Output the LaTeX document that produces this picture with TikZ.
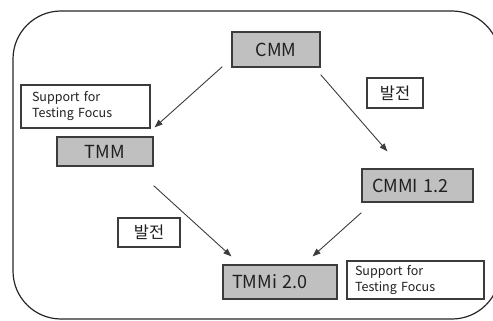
\documentclass[tikz,border=0pt]{standalone}
\usepackage{fontspec}
\setmainfont{Noto Sans CJK KR}
\usetikzlibrary{arrows.meta}
\definecolor{boxgray}{HTML}{C0C0C0}
\definecolor{edge}{HTML}{3C3C3C}
\definecolor{txt}{HTML}{202020}
\tikzset{
  graybox/.style={draw=edge, line width=1.3pt, fill=boxgray, text=txt, font=\fontsize{18}{20}\selectfont, inner ysep=0pt},
  notebox/.style={draw=edge, line width=1.1pt, fill=white, text=txt, font=\fontsize{12.5}{16}\selectfont, align=left, inner ysep=0pt},
  devbox/.style={draw=edge, line width=1.1pt, fill=white, text=txt, font=\fontsize{16.5}{18}\selectfont, inner sep=0pt},
  arr/.style={draw=edge, line width=0.9pt, -{Triangle[length=8pt,width=6pt]}},
  frame/.style={draw=black!85, line width=1.2pt, rounded corners=48pt}
}
\begin{document}
\begin{tikzpicture}[x=1pt,y=-1pt]
\useasboundingbox (0,0) rectangle (493,321);
\clip (0,0) rectangle (493,321);
\path[frame] (13,11) rectangle (500,319);
% gray boxes
\node[graybox, minimum width=88pt, minimum height=35pt] (cmm) at (276,49.5) {CMM};
\node[graybox, minimum width=96pt, minimum height=29pt] (tmm) at (105,151.5) {TMM};
\node[graybox, minimum height=33pt, inner xsep=10pt, text width=91pt, align=left] (cmmi) at (417.5,185.5) {CMMI 1.2};
\node[graybox, minimum height=34pt, inner xsep=9pt, text width=96pt, align=left] (tmmi) at (280,282) {TMMi 2.0};
% notes
\node[notebox, minimum height=43pt, inner xsep=11pt, text width=107pt] (note1) at (85.5,106.5) {Support for\\Testing Focus};
\node[notebox, minimum height=38pt, inner xsep=8pt, text width=121pt] (note2) at (415.5,280) {Support for\\Testing Focus};
\node[devbox, minimum width=56pt, minimum height=30pt] (dev1) at (395,93) {발전};
\node[devbox, minimum width=62pt, minimum height=29pt] (dev2) at (149,232.5) {발전};
% arrows
\draw[arr] ([shift={(-9,-1)}]cmm.south west) -- ([shift={(1,-9)}]tmm.north east);
\draw[arr] ([shift={(0,7)}]cmm.south east) -- ([shift={(26,-17)}]cmmi.north west);
\draw[arr] ([shift={(0,19)}]tmm.south east) -- ([shift={(9,-8)}]tmmi.north west);
\draw[arr] ([shift={(0,10)}]cmmi.south west) -- ([shift={(-25,-8)}]tmmi.north east);
\end{tikzpicture}
\end{document}
